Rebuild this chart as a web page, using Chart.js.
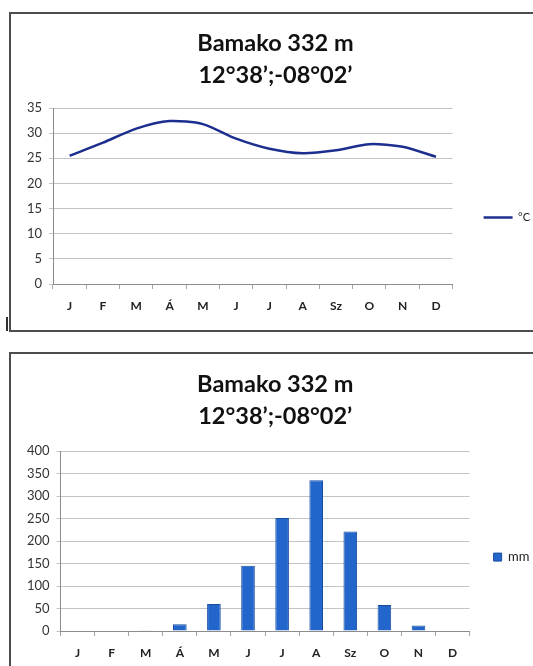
<!DOCTYPE html>
<html>
<head>
<meta charset="utf-8">
<script src="https://cdn.jsdelivr.net/npm/chart.js@4.4.0/dist/chart.umd.min.js"></script>
<style>
  body { margin: 0; background: #fff; width: 533px; height: 666px; overflow: hidden; position: relative; }
  .box { position: absolute; left: 9px; width: 600px; border: 2px solid #4d4d4d; box-sizing: border-box; background: #fff; }
  #box1 { top: 12px; height: 320px; }
  #box2 { top: 352px; height: 400px; }
  #mark { position: absolute; left: 6px; top: 317px; width: 2px; height: 14px; background: #333; }
  canvas { position: absolute; }
</style>
</head>
<body>
<div class="box" id="box1"></div>
<div class="box" id="box2"></div>
<div id="mark"></div>
<canvas id="tempChart" width="522" height="316" style="left:11px;top:14px"></canvas>
<canvas id="rainChart" width="522" height="311" style="left:11px;top:355px"></canvas>
<script>
var months = ['J', 'F', 'M', 'Á', 'M', 'J', 'J', 'A', 'Sz', 'O', 'N', 'D'];
var titleLines = ['Bamako 332 m', '12°38’;-08°02’'];

// monthly mean temperature (°C)
var tempC = [25.5, 28.1, 30.9, 32.4, 31.8, 28.9, 26.9, 26.0, 26.6, 27.8, 27.3, 25.3];
var tempMax = 35, tempStep = 5;

// monthly precipitation (mm)
var rainMm = [0, 0, 1.5, 15, 60, 145, 251, 335, 221, 58, 12, 0];
var rainMax = 400, rainStep = 50;

var FONT = 'Lato, "Open Sans", sans-serif';

function makeOptions(cfg) {
    return {
        responsive: false,
        animation: false,
        layout: { padding: { left: 0, right: cfg.padRight, top: 0, bottom: 0 } },
        plugins: {
            title: {
                display: true,
                text: titleLines,
                color: '#111',
                font: { family: FONT, size: 23.5, weight: 'bold', lineHeight: 32 / 23.5 },
                padding: { top: 13, bottom: cfg.titleBottom }
            },
            legend: {
                position: 'right',
                // empty legend title only pushes the entry down to where it sits in the original
                title: { display: true, text: '', font: { size: 1 }, padding: { top: cfg.legendDrop, bottom: 0 } },
                labels: {
                    color: '#222',
                    font: { family: FONT, size: cfg.legendFont },
                    padding: cfg.legendPad
                }
            },
            tooltip: { enabled: false }
        },
        scales: {
            x: {
                offset: true,
                grid: { offset: true, drawOnChartArea: false, drawTicks: true, tickLength: 5, color: '#a6a6a6' },
                border: { color: '#8c8c8c' },
                ticks: { color: '#222', font: { family: FONT, size: 12, weight: 'bold' }, padding: 10, maxRotation: 0, autoSkip: false },
                afterFit: function(scale) { scale.height = cfg.xHeight; }
            },
            y: {
                min: 0,
                max: cfg.yMax,
                grid: { color: '#c4c4c4', tickLength: 4 },
                border: { color: '#8c8c8c' },
                ticks: { stepSize: cfg.yStep, color: '#333', font: { family: FONT, size: 13 }, padding: 7 },
                afterFit: function(scale) { scale.width = cfg.yWidth; }
            }
        }
    };
}

var tempOptions = makeOptions({
    yMax: tempMax, yStep: tempStep, yWidth: 42, xHeight: 46,
    titleBottom: 17, legendPad: 31, legendFont: 11, padRight: -7, legendDrop: 90
});
tempOptions.plugins.legend.labels.usePointStyle = true;
tempOptions.plugins.legend.labels.pointStyle = 'line';
tempOptions.plugins.legend.labels.pointStyleWidth = 29;

new Chart(document.getElementById('tempChart').getContext('2d'), {
    type: 'line',
    data: {
        labels: months,
        datasets: [{
            label: '°C',
            data: tempC,
            borderColor: '#1c2f8f',
            backgroundColor: '#1c2f8f',
            borderWidth: 2.5,
            pointRadius: 0,
            tension: 0.25,
            fill: false
        }]
    },
    options: tempOptions
});

var rainOptions = makeOptions({
    yMax: rainMax, yStep: rainStep, yWidth: 49.5, xHeight: 35,
    titleBottom: 19, legendPad: 24, legendFont: 13, padRight: -6.5, legendDrop: 92
});
rainOptions.plugins.legend.labels.boxWidth = 8;
rainOptions.plugins.legend.labels.boxHeight = 8;

new Chart(document.getElementById('rainChart').getContext('2d'), {
    type: 'bar',
    data: {
        labels: months,
        datasets: [{
            label: 'mm',
            data: rainMm,
            backgroundColor: '#2266cc',
            borderColor: '#1a4d9e',
            borderWidth: 1,
            barPercentage: 0.4,
            categoryPercentage: 1
        }]
    },
    options: rainOptions
});
</script>
</body>
</html>
